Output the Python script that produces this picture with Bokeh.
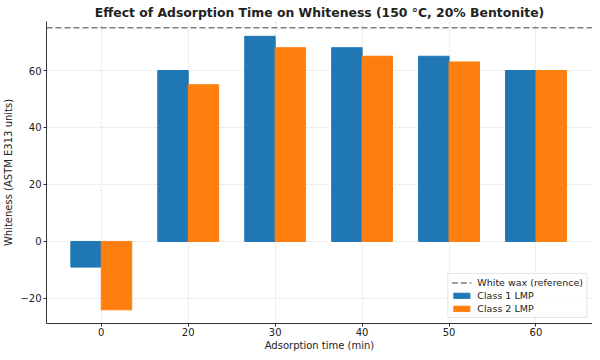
from bokeh.plotting import figure
from bokeh.models import ColumnDataSource, FixedTicker, Legend, LegendItem, Range1d
from bokeh.transform import dodge
from bokeh.embed import file_html
from bokeh.resources import INLINE

# Data
times = ["0", "20", "30", "40", "50", "60"]
class1 = [-9, 60, 72, 68, 65, 60]
class2 = [-24, 55, 68, 65, 63, 60]
reference_value = 75
y_ticks = [-20, 0, 20, 40, 60]
y_tick_labels = ["\u221220", "0", "20", "40", "60"]

FONT = "DejaVu Sans"
BLUE = "#1f77b4"
ORANGE = "#ff7f0e"

idx = list(range(len(times)))
src = ColumnDataSource(dict(idx=idx, c1=class1, c2=class2))

xr = Range1d(-0.63, 5.65)
p = figure(frame_width=546, frame_height=302, output_backend="svg", toolbar_location=None,
           x_range=xr, y_range=Range1d(-28.8, 77.2),
           title="Effect of Adsorption Time on Whiteness (150 \u00b0C, 20% Bentonite)",
           min_border_left=38, min_border_right=0, min_border_top=0, min_border_bottom=0)

p.title.text_font = FONT
p.title.text_font_size = "12.4px"
p.title.text_font_style = "bold"
p.title.text_color = "#222222"
p.title.align = "center"
p.title.standoff = 4
p.outline_line_color = None

bw = 0.35
r1 = p.vbar(x=dodge("idx", -bw / 2, range=p.x_range), top="c1", bottom=0, width=bw,
            source=src, fill_color=BLUE, line_color=BLUE)
r2 = p.vbar(x=dodge("idx", bw / 2, range=p.x_range), top="c2", bottom=0, width=bw,
            source=src, fill_color=ORANGE, line_color=ORANGE)

ref_src = ColumnDataSource(dict(x=[xr.start, xr.end], y=[reference_value, reference_value]))
ref = p.line(x="x", y="y", source=ref_src, line_color="#7f7f7f", line_dash="6 3", line_width=1.6)

legend = Legend(items=[LegendItem(label="White wax (reference)", renderers=[ref]),
                       LegendItem(label="Class 1 LMP", renderers=[r1]),
                       LegendItem(label="Class 2 LMP", renderers=[r2])],
                location="bottom_right")
legend.label_text_font = FONT
legend.label_text_font_size = "9.5px"
legend.label_text_color = "#222222"
legend.glyph_width = 20
legend.glyph_height = 7
legend.label_height = 10
legend.label_standoff = 6
legend.spacing = 2
legend.padding = 3
legend.margin = 5
legend.border_line_color = "#cccccc"
legend.background_fill_alpha = 0.85
p.add_layout(legend)

# axes
p.xaxis.ticker = FixedTicker(ticks=idx)
p.xaxis.major_label_overrides = {i: t for i, t in zip(idx, times)}
p.yaxis.ticker = FixedTicker(ticks=y_ticks)
p.yaxis.major_label_overrides = {t: l for t, l in zip(y_ticks, y_tick_labels)}
p.xaxis.axis_label = "Adsorption time (min)"
p.yaxis.axis_label = "Whiteness (ASTM E313 units)"
for ax in (p.xaxis, p.yaxis):
    ax.axis_label_text_font = FONT
    ax.axis_label_text_font_size = "10px"
    ax.axis_label_text_font_style = "normal"
    ax.axis_label_text_color = "#222222"
    ax.major_label_text_font = FONT
    ax.major_label_text_font_size = "10px"
    ax.major_label_text_color = "#222222"
    ax.axis_line_color = "#333333"
    ax.major_tick_line_color = "#333333"
    ax.major_tick_out = 3
    ax.major_tick_in = 0
    ax.minor_tick_line_color = None
p.xaxis.major_label_standoff = 1
p.xaxis.axis_label_standoff = 1
p.yaxis.major_label_standoff = 2
p.yaxis.axis_label_standoff = 3

p.grid.grid_line_color = "#d4d4d4"
p.grid.grid_line_dash = "2 2"
p.grid.grid_line_alpha = 0.8

open("out.html", "w").write(file_html(p, INLINE))
